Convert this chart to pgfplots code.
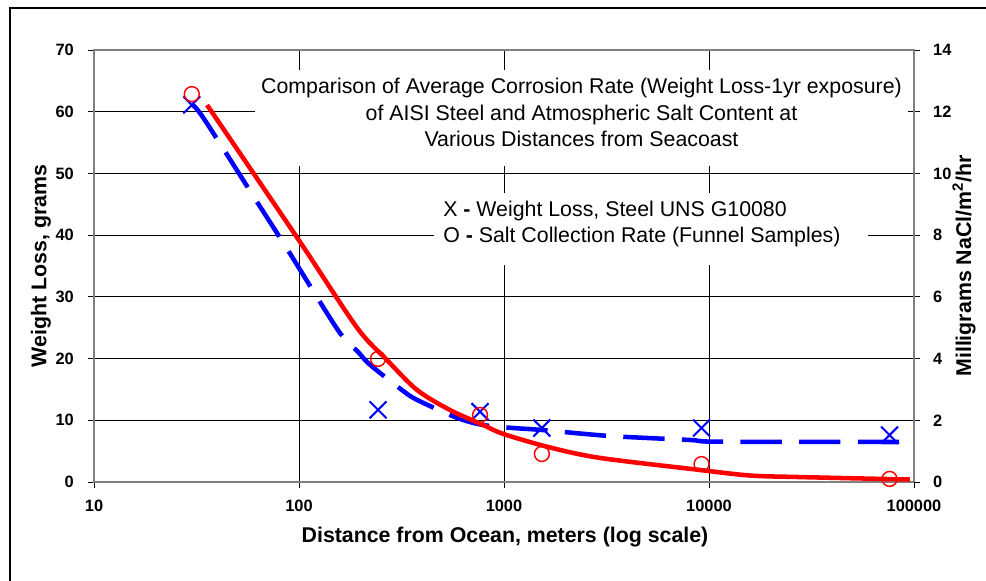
\documentclass[border=0pt]{standalone}
\usepackage{fontspec}
\setmainfont{Liberation Sans}
\usepackage{pgfplots}
\pgfplotsset{compat=1.18}
\definecolor{xlblue}{RGB}{0,0,255}
\definecolor{xlred}{RGB}{255,0,0}
\definecolor{axgray}{RGB}{128,128,128}

\begin{document}
\begin{tikzpicture}[x=0.75pt,y=-0.75pt]
\useasboundingbox (0,0) rectangle (986,581);
\draw[line width=1.5pt] (10,8) rectangle (1010,600);

% left axis: weight loss
\begin{axis}[
  at={(70.5pt,-361.5pt)}, anchor=south west,
  scale only axis, width=615pt, height=324pt,
  xmode=log, xmin=10, xmax=100000,
  xminorticks=false,
  axis line style={axgray, line width=1.5pt},
  tick align=outside,
  major tick length=4.5pt,
  tick style={black, line width=0.6pt},
  ticklabel style={font=\fontsize{12.3}{14}\selectfont\bfseries},
  /pgf/number format/assume math mode=true,
  ymin=0, ymax=70, ytick={0,10,...,70},
  xtick={10,100,1000,10000,100000},
  xticklabels={10,100,1000,10000,100000},
  xmajorgrids, ymajorgrids,
  grid style={black, line width=0.6pt},
  xtick pos=bottom, ytick pos=left,
  yticklabel style={inner sep=0pt, anchor=east, xshift=-10.5pt},
  xticklabel style={inner sep=0pt, anchor=north, yshift=-9pt},
]
\addplot[xlblue, line width=3.4pt, dash pattern=on 31pt off 13pt, smooth, tension=0.5]
  coordinates {(30,61.1) (34,59.1) (62.4,45.4) (89.3,37.3) (155,24.6) (194,21.1)
  (222,19.0) (318,14.9) (377,13.3) (590,10.4) (790,9.24) (1107,8.75) (1531,8.43)
  (3290,7.45) (8070,6.81) (10100,6.55) (30000,6.5) (100000,6.48)};
\addplot[xlblue, only marks, mark=x, mark size=9pt, line width=1.5pt]
  coordinates {(30,61.1) (243,11.7) (764,11.4) (1530,8.75) (9200,8.75) (76000,7.6)};
\end{axis}

% right axis: salt collection rate
\begin{axis}[
  at={(70.5pt,-361.5pt)}, anchor=south west,
  scale only axis, width=615pt, height=324pt,
  xmode=log, xmin=10, xmax=100000,
  xminorticks=false,
  axis line style={axgray, line width=1.5pt},
  tick align=outside,
  major tick length=4.5pt,
  tick style={black, line width=0.6pt},
  ticklabel style={font=\fontsize{12.3}{14}\selectfont\bfseries},
  /pgf/number format/assume math mode=true,
  ymin=0, ymax=14, ytick={0,2,...,14},
  hide x axis, axis y line*=right,
  yticklabel style={inner sep=0pt, anchor=west, xshift=9.75pt},
]
\addplot[xlred, line width=3.4pt, smooth, tension=0.5]
  coordinates {(35.6,12.22) (63.1,9.79) (105,7.62) (192,5.0) (269,3.95) (377,2.98)
  (546,2.33) (790,1.85) (1000,1.55) (1675,1.12) (2940,0.78) (9040,0.39)
  (15850,0.21) (27800,0.16) (95500,0.08)};
\addplot[xlred, only marks, mark=o, mark size=5.6pt, line width=1.1pt]
  coordinates {(30,12.57) (243,3.99) (764,2.17) (1530,0.91) (9200,0.58) (76000,0.10)};
\end{axis}

% white boxes behind the text
\fill[white] (255,70) rectangle (908,166);
\fill[white] (434,193) rectangle (868,265);

\begin{scope}[every node/.style={font=\fontsize{16}{19}\selectfont, inner sep=0pt}]
\node[anchor=base] at (581.5,94) {Comparison of Average Corrosion Rate (Weight Loss-1yr exposure)};
\node[anchor=base] at (581.5,120.5) {of AISI Steel and Atmospheric Salt Content at};
\node[anchor=base] at (581.5,147) {Various Distances from Seacoast};
\node[anchor=base west] at (443,216.5) {X \textbf{-} Weight Loss, Steel UNS G10080};
\node[anchor=base west] at (443,242.5) {O \textbf{-} Salt Collection Rate (Funnel Samples)};
\node[anchor=base, font=\fontsize{16}{19}\selectfont\bfseries] at (505,542) {Distance from Ocean, meters (log scale)};
\node[anchor=center, rotate=90, font=\fontsize{16}{19}\selectfont\bfseries] at (41,266) {Weight Loss, grams};
\node[anchor=center, rotate=90, font=\fontsize{16}{19}\selectfont\bfseries] at (964,266) {Milligrams NaCl/m\textsuperscript{2}/hr};
\end{scope}
\end{tikzpicture}
\end{document}
